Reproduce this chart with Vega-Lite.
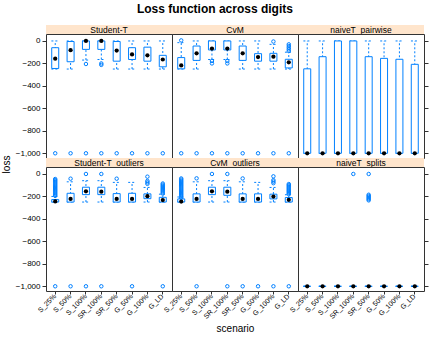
{
"$schema": "https://vega.github.io/schema/vega-lite/v6.json",
"padding": {"left": 0, "top": 3, "right": 4, "bottom": 2},
"title": {"text": "Loss function across digits", "fontSize": 12, "fontWeight": "bold", "anchor": "middle", "offset": 9, "color": "#000"},
"datasets": {
"boxes": [
{"panel":"Student-T","scenario":"S_25%","lo":-250,"q1":-245,"med":-158,"q3":-60,"hi":0},
{"panel":"Student-T","scenario":"S_50%","lo":-250,"q1":-185,"med":-82,"q3":-5,"hi":0},
{"panel":"Student-T","scenario":"S_100%","lo":-170,"q1":-75,"med":0,"q3":0,"hi":0},
{"panel":"Student-T","scenario":"SR_100%","lo":-165,"q1":-75,"med":0,"q3":0,"hi":0},
{"panel":"Student-T","scenario":"SR_50%","lo":-250,"q1":-180,"med":-85,"q3":-5,"hi":0},
{"panel":"Student-T","scenario":"G_50%","lo":-250,"q1":-165,"med":-120,"q3":-60,"hi":0},
{"panel":"Student-T","scenario":"G_100%","lo":-250,"q1":-180,"med":-128,"q3":-55,"hi":0},
{"panel":"Student-T","scenario":"G_LD","lo":-250,"q1":-230,"med":-165,"q3":-128,"hi":0},
{"panel":"CvM","scenario":"S_25%","lo":-250,"q1":-248,"med":-218,"q3":-148,"hi":-15},
{"panel":"CvM","scenario":"S_50%","lo":-250,"q1":-173,"med":-110,"q3":-45,"hi":0},
{"panel":"CvM","scenario":"S_100%","lo":-165,"q1":-80,"med":-68,"q3":0,"hi":0},
{"panel":"CvM","scenario":"SR_100%","lo":-165,"q1":-80,"med":-68,"q3":0,"hi":0},
{"panel":"CvM","scenario":"SR_50%","lo":-250,"q1":-173,"med":-110,"q3":-45,"hi":0},
{"panel":"CvM","scenario":"G_50%","lo":-250,"q1":-180,"med":-143,"q3":-113,"hi":0},
{"panel":"CvM","scenario":"G_100%","lo":-250,"q1":-180,"med":-140,"q3":-110,"hi":-30},
{"panel":"CvM","scenario":"G_LD","lo":-250,"q1":-240,"med":-190,"q3":-163,"hi":-100},
{"panel":"naiveT_pairwise","scenario":"S_25%","lo":-1000,"q1":-1000,"med":-1000,"q3":-248,"hi":0},
{"panel":"naiveT_pairwise","scenario":"S_50%","lo":-1000,"q1":-1000,"med":-1000,"q3":-140,"hi":0},
{"panel":"naiveT_pairwise","scenario":"S_100%","lo":-1000,"q1":-1000,"med":-1000,"q3":0,"hi":0},
{"panel":"naiveT_pairwise","scenario":"SR_100%","lo":-1000,"q1":-1000,"med":-1000,"q3":0,"hi":0},
{"panel":"naiveT_pairwise","scenario":"SR_50%","lo":-1000,"q1":-1000,"med":-1000,"q3":-140,"hi":0},
{"panel":"naiveT_pairwise","scenario":"G_50%","lo":-1000,"q1":-1000,"med":-1000,"q3":-155,"hi":0},
{"panel":"naiveT_pairwise","scenario":"G_100%","lo":-1000,"q1":-1000,"med":-1000,"q3":-163,"hi":0},
{"panel":"naiveT_pairwise","scenario":"G_LD","lo":-1000,"q1":-1000,"med":-1000,"q3":-208,"hi":0},
{"panel":"Student-T_outliers","scenario":"S_25%","lo":-250,"q1":-250,"med":-245,"q3":-228,"hi":-200},
{"panel":"Student-T_outliers","scenario":"S_50%","lo":-250,"q1":-250,"med":-222,"q3":-172,"hi":-70},
{"panel":"Student-T_outliers","scenario":"S_100%","lo":-250,"q1":-184,"med":-155,"q3":-118,"hi":-60},
{"panel":"Student-T_outliers","scenario":"SR_100%","lo":-250,"q1":-184,"med":-158,"q3":-118,"hi":-60},
{"panel":"Student-T_outliers","scenario":"SR_50%","lo":-250,"q1":-250,"med":-222,"q3":-175,"hi":-75},
{"panel":"Student-T_outliers","scenario":"G_50%","lo":-250,"q1":-250,"med":-222,"q3":-172,"hi":-75},
{"panel":"Student-T_outliers","scenario":"G_100%","lo":-250,"q1":-220,"med":-198,"q3":-177,"hi":-120},
{"panel":"Student-T_outliers","scenario":"G_LD","lo":-250,"q1":-250,"med":-232,"q3":-208,"hi":-180},
{"panel":"CvM_outliers","scenario":"S_25%","lo":-250,"q1":-250,"med":-246,"q3":-222,"hi":-205},
{"panel":"CvM_outliers","scenario":"S_50%","lo":-250,"q1":-250,"med":-222,"q3":-177,"hi":-70},
{"panel":"CvM_outliers","scenario":"S_100%","lo":-250,"q1":-184,"med":-154,"q3":-118,"hi":-60},
{"panel":"CvM_outliers","scenario":"SR_100%","lo":-250,"q1":-190,"med":-158,"q3":-118,"hi":-60},
{"panel":"CvM_outliers","scenario":"SR_50%","lo":-250,"q1":-250,"med":-222,"q3":-177,"hi":-70},
{"panel":"CvM_outliers","scenario":"G_50%","lo":-250,"q1":-250,"med":-222,"q3":-177,"hi":-75},
{"panel":"CvM_outliers","scenario":"G_100%","lo":-250,"q1":-222,"med":-201,"q3":-180,"hi":-120},
{"panel":"CvM_outliers","scenario":"G_LD","lo":-250,"q1":-250,"med":-230,"q3":-210,"hi":-185},
{"panel":"naiveT_splits","scenario":"S_25%","lo":-1000,"q1":-1000,"med":-1000,"q3":-1000,"hi":-1000},
{"panel":"naiveT_splits","scenario":"S_50%","lo":-1000,"q1":-1000,"med":-1000,"q3":-1000,"hi":-1000},
{"panel":"naiveT_splits","scenario":"S_100%","lo":-1000,"q1":-1000,"med":-1000,"q3":-1000,"hi":-1000},
{"panel":"naiveT_splits","scenario":"SR_100%","lo":-1000,"q1":-1000,"med":-1000,"q3":-1000,"hi":-1000},
{"panel":"naiveT_splits","scenario":"SR_50%","lo":-1000,"q1":-1000,"med":-1000,"q3":-1000,"hi":-1000},
{"panel":"naiveT_splits","scenario":"G_50%","lo":-1000,"q1":-1000,"med":-1000,"q3":-1000,"hi":-1000},
{"panel":"naiveT_splits","scenario":"G_100%","lo":-1000,"q1":-1000,"med":-1000,"q3":-1000,"hi":-1000},
{"panel":"naiveT_splits","scenario":"G_LD","lo":-1000,"q1":-1000,"med":-1000,"q3":-1000,"hi":-1000}
],
"outliers": [
{"panel":"Student-T","scenario":"S_25%","loss":-1000},
{"panel":"Student-T","scenario":"S_50%","loss":-1000},
{"panel":"Student-T","scenario":"S_100%","loss":-1000},
{"panel":"Student-T","scenario":"SR_100%","loss":-1000},
{"panel":"Student-T","scenario":"SR_50%","loss":-1000},
{"panel":"Student-T","scenario":"G_50%","loss":-1000},
{"panel":"Student-T","scenario":"G_100%","loss":-1000},
{"panel":"Student-T","scenario":"G_LD","loss":-1000},
{"panel":"Student-T","scenario":"S_100%","loss":-205},
{"panel":"Student-T","scenario":"SR_100%","loss":-200},
{"panel":"Student-T","scenario":"SR_100%","loss":-213},
{"panel":"CvM","scenario":"S_25%","loss":-1000},
{"panel":"CvM","scenario":"S_50%","loss":-1000},
{"panel":"CvM","scenario":"S_100%","loss":-1000},
{"panel":"CvM","scenario":"SR_100%","loss":-1000},
{"panel":"CvM","scenario":"SR_50%","loss":-1000},
{"panel":"CvM","scenario":"G_50%","loss":-1000},
{"panel":"CvM","scenario":"G_100%","loss":-1000},
{"panel":"CvM","scenario":"G_LD","loss":-1000},
{"panel":"CvM","scenario":"S_25%","loss":5},
{"panel":"CvM","scenario":"S_100%","loss":-178},
{"panel":"CvM","scenario":"S_100%","loss":-200},
{"panel":"CvM","scenario":"SR_100%","loss":-178},
{"panel":"CvM","scenario":"SR_100%","loss":-200},
{"panel":"CvM","scenario":"G_100%","loss":-5},
{"panel":"CvM","scenario":"G_LD","loss":-30},
{"panel":"CvM","scenario":"G_LD","loss":-45},
{"panel":"CvM","scenario":"G_LD","loss":-60},
{"panel":"CvM","scenario":"G_LD","loss":-75},
{"panel":"CvM","scenario":"G_LD","loss":-90},
{"panel":"Student-T_outliers","scenario":"S_25%","loss":-1000},
{"panel":"Student-T_outliers","scenario":"S_50%","loss":-1000},
{"panel":"Student-T_outliers","scenario":"S_100%","loss":-1000},
{"panel":"Student-T_outliers","scenario":"SR_100%","loss":-1000},
{"panel":"Student-T_outliers","scenario":"G_50%","loss":-1000},
{"panel":"Student-T_outliers","scenario":"G_LD","loss":-1000},
{"panel":"Student-T_outliers","scenario":"S_25%","loss":-45},
{"panel":"Student-T_outliers","scenario":"S_25%","loss":-55},
{"panel":"Student-T_outliers","scenario":"S_25%","loss":-65},
{"panel":"Student-T_outliers","scenario":"S_25%","loss":-75},
{"panel":"Student-T_outliers","scenario":"S_25%","loss":-85},
{"panel":"Student-T_outliers","scenario":"S_25%","loss":-95},
{"panel":"Student-T_outliers","scenario":"S_25%","loss":-105},
{"panel":"Student-T_outliers","scenario":"S_25%","loss":-115},
{"panel":"Student-T_outliers","scenario":"S_25%","loss":-125},
{"panel":"Student-T_outliers","scenario":"S_25%","loss":-135},
{"panel":"Student-T_outliers","scenario":"S_25%","loss":-145},
{"panel":"Student-T_outliers","scenario":"S_25%","loss":-155},
{"panel":"Student-T_outliers","scenario":"S_25%","loss":-165},
{"panel":"Student-T_outliers","scenario":"S_25%","loss":-175},
{"panel":"Student-T_outliers","scenario":"S_25%","loss":-185},
{"panel":"Student-T_outliers","scenario":"S_25%","loss":-195},
{"panel":"Student-T_outliers","scenario":"S_50%","loss":-42},
{"panel":"Student-T_outliers","scenario":"S_100%","loss":0},
{"panel":"Student-T_outliers","scenario":"SR_100%","loss":0},
{"panel":"Student-T_outliers","scenario":"SR_50%","loss":-42},
{"panel":"Student-T_outliers","scenario":"G_100%","loss":-24},
{"panel":"Student-T_outliers","scenario":"G_100%","loss":-62},
{"panel":"Student-T_outliers","scenario":"G_100%","loss":-75},
{"panel":"Student-T_outliers","scenario":"G_100%","loss":-88},
{"panel":"Student-T_outliers","scenario":"G_LD","loss":-85},
{"panel":"Student-T_outliers","scenario":"G_LD","loss":-95},
{"panel":"Student-T_outliers","scenario":"G_LD","loss":-105},
{"panel":"Student-T_outliers","scenario":"G_LD","loss":-115},
{"panel":"Student-T_outliers","scenario":"G_LD","loss":-125},
{"panel":"Student-T_outliers","scenario":"G_LD","loss":-135},
{"panel":"Student-T_outliers","scenario":"G_LD","loss":-145},
{"panel":"Student-T_outliers","scenario":"G_LD","loss":-155},
{"panel":"Student-T_outliers","scenario":"G_LD","loss":-165},
{"panel":"Student-T_outliers","scenario":"G_LD","loss":-175},
{"panel":"CvM_outliers","scenario":"S_50%","loss":-1000},
{"panel":"CvM_outliers","scenario":"SR_100%","loss":-1000},
{"panel":"CvM_outliers","scenario":"SR_50%","loss":-1000},
{"panel":"CvM_outliers","scenario":"G_50%","loss":-1000},
{"panel":"CvM_outliers","scenario":"G_100%","loss":-1000},
{"panel":"CvM_outliers","scenario":"G_LD","loss":-1000},
{"panel":"CvM_outliers","scenario":"S_25%","loss":-40},
{"panel":"CvM_outliers","scenario":"S_25%","loss":-50},
{"panel":"CvM_outliers","scenario":"S_25%","loss":-60},
{"panel":"CvM_outliers","scenario":"S_25%","loss":-70},
{"panel":"CvM_outliers","scenario":"S_25%","loss":-80},
{"panel":"CvM_outliers","scenario":"S_25%","loss":-90},
{"panel":"CvM_outliers","scenario":"S_25%","loss":-100},
{"panel":"CvM_outliers","scenario":"S_25%","loss":-110},
{"panel":"CvM_outliers","scenario":"S_25%","loss":-120},
{"panel":"CvM_outliers","scenario":"S_25%","loss":-130},
{"panel":"CvM_outliers","scenario":"S_25%","loss":-140},
{"panel":"CvM_outliers","scenario":"S_25%","loss":-150},
{"panel":"CvM_outliers","scenario":"S_25%","loss":-160},
{"panel":"CvM_outliers","scenario":"S_25%","loss":-170},
{"panel":"CvM_outliers","scenario":"S_25%","loss":-180},
{"panel":"CvM_outliers","scenario":"S_25%","loss":-190},
{"panel":"CvM_outliers","scenario":"S_25%","loss":-200},
{"panel":"CvM_outliers","scenario":"S_25%","loss":-212},
{"panel":"CvM_outliers","scenario":"S_50%","loss":-39},
{"panel":"CvM_outliers","scenario":"S_100%","loss":0},
{"panel":"CvM_outliers","scenario":"SR_100%","loss":0},
{"panel":"CvM_outliers","scenario":"SR_50%","loss":-40},
{"panel":"CvM_outliers","scenario":"G_100%","loss":-21},
{"panel":"CvM_outliers","scenario":"G_100%","loss":-55},
{"panel":"CvM_outliers","scenario":"G_100%","loss":-68},
{"panel":"CvM_outliers","scenario":"G_100%","loss":-82},
{"panel":"CvM_outliers","scenario":"G_LD","loss":-90},
{"panel":"CvM_outliers","scenario":"G_LD","loss":-100},
{"panel":"CvM_outliers","scenario":"G_LD","loss":-110},
{"panel":"CvM_outliers","scenario":"G_LD","loss":-120},
{"panel":"CvM_outliers","scenario":"G_LD","loss":-130},
{"panel":"CvM_outliers","scenario":"G_LD","loss":-140},
{"panel":"CvM_outliers","scenario":"G_LD","loss":-150},
{"panel":"CvM_outliers","scenario":"G_LD","loss":-160},
{"panel":"CvM_outliers","scenario":"G_LD","loss":-170},
{"panel":"CvM_outliers","scenario":"G_LD","loss":-180},
{"panel":"naiveT_splits","scenario":"SR_100%","loss":0},
{"panel":"naiveT_splits","scenario":"SR_50%","loss":0},
{"panel":"naiveT_splits","scenario":"SR_50%","loss":-185},
{"panel":"naiveT_splits","scenario":"SR_50%","loss":-195},
{"panel":"naiveT_splits","scenario":"SR_50%","loss":-205},
{"panel":"naiveT_splits","scenario":"SR_50%","loss":-215},
{"panel":"naiveT_splits","scenario":"SR_50%","loss":-225},
{"panel":"naiveT_splits","scenario":"SR_50%","loss":-235}
]
},
"columns": 3,
"spacing": 0,
"bounds": "flush",
"concat": [
{"width":126,"height":9,"view":{"fill":"#ffe5cc"},"data":{"values":[{"p":"Student-T"}]},"mark":{"type":"text","fontSize":8.5,"color":"#000"},"encoding":{"text":{"field":"p"}}},
{"width":126,"height":9,"view":{"fill":"#ffe5cc"},"data":{"values":[{"p":"CvM"}]},"mark":{"type":"text","fontSize":8.5,"color":"#000"},"encoding":{"text":{"field":"p"}}},
{"width":126,"height":9,"view":{"fill":"#ffe5cc"},"data":{"values":[{"p":"naiveT_pairwise"}]},"mark":{"type":"text","fontSize":8.5,"color":"#000"},"encoding":{"text":{"field":"p"}}},

{"width":126,"height":124,
"encoding":{"x":{"field":"scenario","type":"nominal","sort":["S_25%","S_50%","S_100%","SR_100%","SR_50%","G_50%","G_100%","G_LD"],"scale":{"domain":["S_25%","S_50%","S_100%","SR_100%","SR_50%","G_50%","G_100%","G_LD"],"paddingInner":0,"paddingOuter":0.1},"axis":null}},
"layer":[
{"data":{"name":"boxes"},"transform":[{"filter":"datum.panel === 'Student-T'"}],"mark":{"type":"rule","stroke":"#0080ff","strokeDash":[2,2],"strokeWidth":1},"encoding":{"y":{"field":"lo","type":"quantitative","scale":{"domain":[-1042,62],"nice":false,"zero":false},"axis":{"title":null}},"y2":{"field":"hi"}}},
{"data":{"name":"boxes"},"transform":[{"filter":"datum.panel === 'Student-T'"},{"fold":["lo","hi"],"as":["k","v"]}],"mark":{"type":"rule","stroke":"#0080ff","strokeDash":[2,2],"strokeWidth":1},"encoding":{"x":{"field":"scenario","type":"nominal","sort":["S_25%","S_50%","S_100%","SR_100%","SR_50%","G_50%","G_100%","G_LD"],"scale":{"domain":["S_25%","S_50%","S_100%","SR_100%","SR_50%","G_50%","G_100%","G_LD"],"paddingInner":0,"paddingOuter":0.1},"axis":null,"bandPosition":0.25},"x2":{"field":"scenario","bandPosition":0.75},"y":{"field":"v","type":"quantitative","scale":{"domain":[-1042,62],"nice":false,"zero":false},"axis":{"title":null}}}},
{"data":{"name":"boxes"},"transform":[{"filter":"datum.panel === 'Student-T'"}],"mark":{"type":"bar","size":7,"fill":"white","stroke":"#0080ff","strokeWidth":1},"encoding":{"y":{"field":"q1","type":"quantitative","scale":{"domain":[-1042,62],"nice":false,"zero":false},"axis":{"title":null}},"y2":{"field":"q3"}}},
{"data":{"name":"outliers"},"transform":[{"filter":"datum.panel === 'Student-T'"}],"mark":{"type":"point","filled":false,"color":"#0080ff","size":12,"strokeWidth":1,"opacity":1},"encoding":{"y":{"field":"loss","type":"quantitative","scale":{"domain":[-1042,62],"nice":false,"zero":false},"axis":{"title":null}}}},
{"data":{"name":"boxes"},"transform":[{"filter":"datum.panel === 'Student-T'"}],"mark":{"type":"point","filled":true,"color":"#000","size":18,"opacity":1},"encoding":{"y":{"field":"med","type":"quantitative","scale":{"domain":[-1042,62],"nice":false,"zero":false},"axis":{"title":null}}}}
]},

{"width":126,"height":124,
"encoding":{"x":{"field":"scenario","type":"nominal","sort":["S_25%","S_50%","S_100%","SR_100%","SR_50%","G_50%","G_100%","G_LD"],"scale":{"domain":["S_25%","S_50%","S_100%","SR_100%","SR_50%","G_50%","G_100%","G_LD"],"paddingInner":0,"paddingOuter":0.1},"axis":null}},
"layer":[
{"data":{"name":"boxes"},"transform":[{"filter":"datum.panel === 'CvM'"}],"mark":{"type":"rule","stroke":"#0080ff","strokeDash":[2,2],"strokeWidth":1},"encoding":{"y":{"field":"lo","type":"quantitative","scale":{"domain":[-1042,62],"nice":false,"zero":false},"axis":null},"y2":{"field":"hi"}}},
{"data":{"name":"boxes"},"transform":[{"filter":"datum.panel === 'CvM'"},{"fold":["lo","hi"],"as":["k","v"]}],"mark":{"type":"rule","stroke":"#0080ff","strokeDash":[2,2],"strokeWidth":1},"encoding":{"x":{"field":"scenario","type":"nominal","sort":["S_25%","S_50%","S_100%","SR_100%","SR_50%","G_50%","G_100%","G_LD"],"scale":{"domain":["S_25%","S_50%","S_100%","SR_100%","SR_50%","G_50%","G_100%","G_LD"],"paddingInner":0,"paddingOuter":0.1},"axis":null,"bandPosition":0.25},"x2":{"field":"scenario","bandPosition":0.75},"y":{"field":"v","type":"quantitative","scale":{"domain":[-1042,62],"nice":false,"zero":false},"axis":null}}},
{"data":{"name":"boxes"},"transform":[{"filter":"datum.panel === 'CvM'"}],"mark":{"type":"bar","size":7,"fill":"white","stroke":"#0080ff","strokeWidth":1},"encoding":{"y":{"field":"q1","type":"quantitative","scale":{"domain":[-1042,62],"nice":false,"zero":false},"axis":null},"y2":{"field":"q3"}}},
{"data":{"name":"outliers"},"transform":[{"filter":"datum.panel === 'CvM'"}],"mark":{"type":"point","filled":false,"color":"#0080ff","size":12,"strokeWidth":1,"opacity":1},"encoding":{"y":{"field":"loss","type":"quantitative","scale":{"domain":[-1042,62],"nice":false,"zero":false},"axis":null}}},
{"data":{"name":"boxes"},"transform":[{"filter":"datum.panel === 'CvM'"}],"mark":{"type":"point","filled":true,"color":"#000","size":18,"opacity":1},"encoding":{"y":{"field":"med","type":"quantitative","scale":{"domain":[-1042,62],"nice":false,"zero":false},"axis":null}}}
]},

{"width":126,"height":124,
"encoding":{"x":{"field":"scenario","type":"nominal","sort":["S_25%","S_50%","S_100%","SR_100%","SR_50%","G_50%","G_100%","G_LD"],"scale":{"domain":["S_25%","S_50%","S_100%","SR_100%","SR_50%","G_50%","G_100%","G_LD"],"paddingInner":0,"paddingOuter":0.1},"axis":null}},
"layer":[
{"data":{"name":"boxes"},"transform":[{"filter":"datum.panel === 'naiveT_pairwise'"}],"mark":{"type":"rule","stroke":"#0080ff","strokeDash":[2,2],"strokeWidth":1},"encoding":{"y":{"field":"lo","type":"quantitative","scale":{"domain":[-1042,62],"nice":false,"zero":false},"axis":{"orient":"right","labels":false,"title":null}},"y2":{"field":"hi"}}},
{"data":{"name":"boxes"},"transform":[{"filter":"datum.panel === 'naiveT_pairwise'"},{"fold":["lo","hi"],"as":["k","v"]}],"mark":{"type":"rule","stroke":"#0080ff","strokeDash":[2,2],"strokeWidth":1},"encoding":{"x":{"field":"scenario","type":"nominal","sort":["S_25%","S_50%","S_100%","SR_100%","SR_50%","G_50%","G_100%","G_LD"],"scale":{"domain":["S_25%","S_50%","S_100%","SR_100%","SR_50%","G_50%","G_100%","G_LD"],"paddingInner":0,"paddingOuter":0.1},"axis":null,"bandPosition":0.25},"x2":{"field":"scenario","bandPosition":0.75},"y":{"field":"v","type":"quantitative","scale":{"domain":[-1042,62],"nice":false,"zero":false},"axis":{"orient":"right","labels":false,"title":null}}}},
{"data":{"name":"boxes"},"transform":[{"filter":"datum.panel === 'naiveT_pairwise'"}],"mark":{"type":"bar","size":7,"fill":"white","stroke":"#0080ff","strokeWidth":1},"encoding":{"y":{"field":"q1","type":"quantitative","scale":{"domain":[-1042,62],"nice":false,"zero":false},"axis":{"orient":"right","labels":false,"title":null}},"y2":{"field":"q3"}}},
{"data":{"name":"outliers"},"transform":[{"filter":"datum.panel === 'naiveT_pairwise'"}],"mark":{"type":"point","filled":false,"color":"#0080ff","size":12,"strokeWidth":1,"opacity":1},"encoding":{"y":{"field":"loss","type":"quantitative","scale":{"domain":[-1042,62],"nice":false,"zero":false},"axis":{"orient":"right","labels":false,"title":null}}}},
{"data":{"name":"boxes"},"transform":[{"filter":"datum.panel === 'naiveT_pairwise'"}],"mark":{"type":"point","filled":true,"color":"#000","size":18,"opacity":1},"encoding":{"y":{"field":"med","type":"quantitative","scale":{"domain":[-1042,62],"nice":false,"zero":false},"axis":{"orient":"right","labels":false,"title":null}}}}
]},

{"width":126,"height":9,"view":{"fill":"#ffe5cc"},"data":{"values":[{"p":"Student-T_outliers"}]},"mark":{"type":"text","fontSize":8.5,"color":"#000"},"encoding":{"text":{"field":"p"}}},
{"width":126,"height":9,"view":{"fill":"#ffe5cc"},"data":{"values":[{"p":"CvM_outliers"}]},"mark":{"type":"text","fontSize":8.5,"color":"#000"},"encoding":{"text":{"field":"p"}}},
{"width":126,"height":9,"view":{"fill":"#ffe5cc"},"data":{"values":[{"p":"naiveT_splits"}]},"mark":{"type":"text","fontSize":8.5,"color":"#000"},"encoding":{"text":{"field":"p"}}},

{"width":126,"height":124,
"encoding":{"x":{"field":"scenario","type":"nominal","sort":["S_25%","S_50%","S_100%","SR_100%","SR_50%","G_50%","G_100%","G_LD"],"scale":{"domain":["S_25%","S_50%","S_100%","SR_100%","SR_50%","G_50%","G_100%","G_LD"],"paddingInner":0,"paddingOuter":0.1},"axis":{"title":null,"labelAngle":-45,"labelAlign":"right","labelBaseline":"middle","labelFontSize":7,"tickSize":3,"labelPadding":1}}},
"layer":[
{"data":{"name":"boxes"},"transform":[{"filter":"datum.panel === 'Student-T_outliers'"}],"mark":{"type":"rule","stroke":"#0080ff","strokeDash":[2,2],"strokeWidth":1},"encoding":{"y":{"field":"lo","type":"quantitative","scale":{"domain":[-1042,62],"nice":false,"zero":false},"axis":{"title":"loss","titleY":-3}},"y2":{"field":"hi"}}},
{"data":{"name":"boxes"},"transform":[{"filter":"datum.panel === 'Student-T_outliers'"},{"fold":["lo","hi"],"as":["k","v"]}],"mark":{"type":"rule","stroke":"#0080ff","strokeDash":[2,2],"strokeWidth":1},"encoding":{"x":{"field":"scenario","type":"nominal","sort":["S_25%","S_50%","S_100%","SR_100%","SR_50%","G_50%","G_100%","G_LD"],"scale":{"domain":["S_25%","S_50%","S_100%","SR_100%","SR_50%","G_50%","G_100%","G_LD"],"paddingInner":0,"paddingOuter":0.1},"axis":{"title":null,"labelAngle":-45,"labelAlign":"right","labelBaseline":"middle","labelFontSize":7,"tickSize":3,"labelPadding":1},"bandPosition":0.25},"x2":{"field":"scenario","bandPosition":0.75},"y":{"field":"v","type":"quantitative","scale":{"domain":[-1042,62],"nice":false,"zero":false},"axis":{"title":"loss","titleY":-3}}}},
{"data":{"name":"boxes"},"transform":[{"filter":"datum.panel === 'Student-T_outliers'"}],"mark":{"type":"bar","size":7,"fill":"white","stroke":"#0080ff","strokeWidth":1},"encoding":{"y":{"field":"q1","type":"quantitative","scale":{"domain":[-1042,62],"nice":false,"zero":false},"axis":{"title":"loss","titleY":-3}},"y2":{"field":"q3"}}},
{"data":{"name":"outliers"},"transform":[{"filter":"datum.panel === 'Student-T_outliers'"}],"mark":{"type":"point","filled":false,"color":"#0080ff","size":12,"strokeWidth":1,"opacity":1},"encoding":{"y":{"field":"loss","type":"quantitative","scale":{"domain":[-1042,62],"nice":false,"zero":false},"axis":{"title":"loss","titleY":-3}}}},
{"data":{"name":"boxes"},"transform":[{"filter":"datum.panel === 'Student-T_outliers'"}],"mark":{"type":"point","filled":true,"color":"#000","size":18,"opacity":1},"encoding":{"y":{"field":"med","type":"quantitative","scale":{"domain":[-1042,62],"nice":false,"zero":false},"axis":{"title":"loss","titleY":-3}}}}
]},

{"width":126,"height":124,
"encoding":{"x":{"field":"scenario","type":"nominal","sort":["S_25%","S_50%","S_100%","SR_100%","SR_50%","G_50%","G_100%","G_LD"],"scale":{"domain":["S_25%","S_50%","S_100%","SR_100%","SR_50%","G_50%","G_100%","G_LD"],"paddingInner":0,"paddingOuter":0.1},"axis":{"title":"scenario","labelAngle":-45,"labelAlign":"right","labelBaseline":"middle","labelFontSize":7,"tickSize":3,"labelPadding":1}}},
"layer":[
{"data":{"name":"boxes"},"transform":[{"filter":"datum.panel === 'CvM_outliers'"}],"mark":{"type":"rule","stroke":"#0080ff","strokeDash":[2,2],"strokeWidth":1},"encoding":{"y":{"field":"lo","type":"quantitative","scale":{"domain":[-1042,62],"nice":false,"zero":false},"axis":null},"y2":{"field":"hi"}}},
{"data":{"name":"boxes"},"transform":[{"filter":"datum.panel === 'CvM_outliers'"},{"fold":["lo","hi"],"as":["k","v"]}],"mark":{"type":"rule","stroke":"#0080ff","strokeDash":[2,2],"strokeWidth":1},"encoding":{"x":{"field":"scenario","type":"nominal","sort":["S_25%","S_50%","S_100%","SR_100%","SR_50%","G_50%","G_100%","G_LD"],"scale":{"domain":["S_25%","S_50%","S_100%","SR_100%","SR_50%","G_50%","G_100%","G_LD"],"paddingInner":0,"paddingOuter":0.1},"axis":{"title":"scenario","labelAngle":-45,"labelAlign":"right","labelBaseline":"middle","labelFontSize":7,"tickSize":3,"labelPadding":1},"bandPosition":0.25},"x2":{"field":"scenario","bandPosition":0.75},"y":{"field":"v","type":"quantitative","scale":{"domain":[-1042,62],"nice":false,"zero":false},"axis":null}}},
{"data":{"name":"boxes"},"transform":[{"filter":"datum.panel === 'CvM_outliers'"}],"mark":{"type":"bar","size":7,"fill":"white","stroke":"#0080ff","strokeWidth":1},"encoding":{"y":{"field":"q1","type":"quantitative","scale":{"domain":[-1042,62],"nice":false,"zero":false},"axis":null},"y2":{"field":"q3"}}},
{"data":{"name":"outliers"},"transform":[{"filter":"datum.panel === 'CvM_outliers'"}],"mark":{"type":"point","filled":false,"color":"#0080ff","size":12,"strokeWidth":1,"opacity":1},"encoding":{"y":{"field":"loss","type":"quantitative","scale":{"domain":[-1042,62],"nice":false,"zero":false},"axis":null}}},
{"data":{"name":"boxes"},"transform":[{"filter":"datum.panel === 'CvM_outliers'"}],"mark":{"type":"point","filled":true,"color":"#000","size":18,"opacity":1},"encoding":{"y":{"field":"med","type":"quantitative","scale":{"domain":[-1042,62],"nice":false,"zero":false},"axis":null}}}
]},

{"width":126,"height":124,
"encoding":{"x":{"field":"scenario","type":"nominal","sort":["S_25%","S_50%","S_100%","SR_100%","SR_50%","G_50%","G_100%","G_LD"],"scale":{"domain":["S_25%","S_50%","S_100%","SR_100%","SR_50%","G_50%","G_100%","G_LD"],"paddingInner":0,"paddingOuter":0.1},"axis":{"title":null,"labelAngle":-45,"labelAlign":"right","labelBaseline":"middle","labelFontSize":7,"tickSize":3,"labelPadding":1}}},
"layer":[
{"data":{"name":"boxes"},"transform":[{"filter":"datum.panel === 'naiveT_splits'"}],"mark":{"type":"rule","stroke":"#0080ff","strokeDash":[2,2],"strokeWidth":1},"encoding":{"y":{"field":"lo","type":"quantitative","scale":{"domain":[-1042,62],"nice":false,"zero":false},"axis":{"orient":"right","labels":false,"title":null}},"y2":{"field":"hi"}}},
{"data":{"name":"boxes"},"transform":[{"filter":"datum.panel === 'naiveT_splits'"},{"fold":["lo","hi"],"as":["k","v"]}],"mark":{"type":"rule","stroke":"#0080ff","strokeDash":[2,2],"strokeWidth":1},"encoding":{"x":{"field":"scenario","type":"nominal","sort":["S_25%","S_50%","S_100%","SR_100%","SR_50%","G_50%","G_100%","G_LD"],"scale":{"domain":["S_25%","S_50%","S_100%","SR_100%","SR_50%","G_50%","G_100%","G_LD"],"paddingInner":0,"paddingOuter":0.1},"axis":{"title":null,"labelAngle":-45,"labelAlign":"right","labelBaseline":"middle","labelFontSize":7,"tickSize":3,"labelPadding":1},"bandPosition":0.25},"x2":{"field":"scenario","bandPosition":0.75},"y":{"field":"v","type":"quantitative","scale":{"domain":[-1042,62],"nice":false,"zero":false},"axis":{"orient":"right","labels":false,"title":null}}}},
{"data":{"name":"boxes"},"transform":[{"filter":"datum.panel === 'naiveT_splits'"}],"mark":{"type":"bar","size":7,"fill":"white","stroke":"#0080ff","strokeWidth":1},"encoding":{"y":{"field":"q1","type":"quantitative","scale":{"domain":[-1042,62],"nice":false,"zero":false},"axis":{"orient":"right","labels":false,"title":null}},"y2":{"field":"q3"}}},
{"data":{"name":"outliers"},"transform":[{"filter":"datum.panel === 'naiveT_splits'"}],"mark":{"type":"point","filled":false,"color":"#0080ff","size":12,"strokeWidth":1,"opacity":1},"encoding":{"y":{"field":"loss","type":"quantitative","scale":{"domain":[-1042,62],"nice":false,"zero":false},"axis":{"orient":"right","labels":false,"title":null}}}},
{"data":{"name":"boxes"},"transform":[{"filter":"datum.panel === 'naiveT_splits'"}],"mark":{"type":"point","filled":true,"color":"#000","size":18,"opacity":1},"encoding":{"y":{"field":"med","type":"quantitative","scale":{"domain":[-1042,62],"nice":false,"zero":false},"axis":{"orient":"right","labels":false,"title":null}}}}
]}
],
"config": {
"font": "Liberation Sans",
"view": {"stroke": "#333", "strokeWidth": 1},
"axis": {"grid": false, "domain": false, "tickColor": "#333", "labelColor": "#000", "tickSize": 4, "labelFontSize": 8, "titleFontSize": 10, "titleFontWeight": "normal", "titleColor": "#000"},
"axisY": {"tickCount": 6, "labelPadding": 2}
}
}
